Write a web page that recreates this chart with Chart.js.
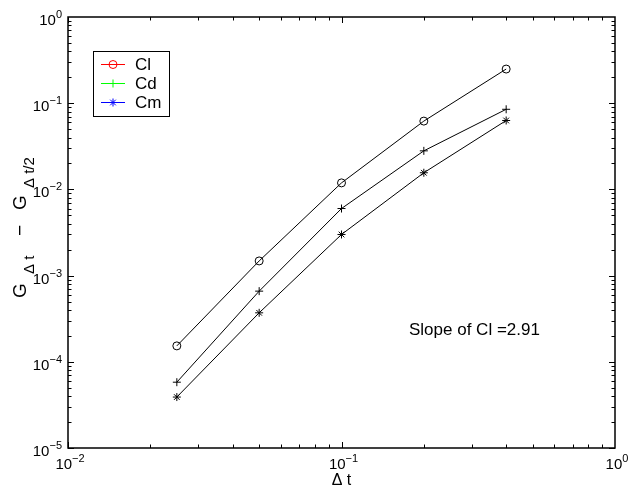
<!DOCTYPE html>
<html><head><meta charset="utf-8">
<script src="https://cdn.jsdelivr.net/npm/chart.js@4.4.0/dist/chart.umd.min.js"></script>
<style>html,body{margin:0;padding:0;background:#fff;}#wrap{width:628px;height:489px;}</style>
</head><body><div id="wrap"><canvas id="c" width="628" height="489"></canvas></div>
<script>
// ---- data ----
const dt = [0.025, 0.05, 0.1, 0.2, 0.4];
const cl = [1.53e-4, 1.48e-3, 1.19e-2, 6.2e-2, 0.249];
const cd = [5.8e-5, 6.6e-4, 6.0e-3, 2.8e-2, 0.085];
const cm = [3.9e-5, 3.7e-4, 3.0e-3, 1.56e-2, 0.063];
const seriesNames = ['Cl', 'Cd', 'Cm'];
const legendColors = ['#ff0000', '#00ff00', '#0000ff'];
const markerStyles = ['circle', 'cross', 'star'];
const xTickExps = [-2, -1, 0];
const yTickExps = [0, -1, -2, -3, -4, -5];
const xTitle = 'Δ t';
const annotationText = 'Slope of Cl =2.91';

const FONT = '"Liberation Sans", Arial, Helvetica, sans-serif';
const seriesValues = [cl, cd, cm];

const datasets = seriesNames.map((name, i) => ({
  label: name,
  data: dt.map((x, j) => ({ x: x, y: seriesValues[i][j] })),
  borderColor: '#000',
  borderWidth: 1,
  pointStyle: markerStyles[i],
  pointRadius: 4,
  pointHoverRadius: 4,
  pointBorderColor: '#000',
  pointBackgroundColor: 'rgba(0,0,0,0)',
  pointBorderWidth: 1,
  tension: 0,
  fill: false
}));

function drawMarker(ctx, style, x, y, r, color) {
  ctx.save();
  ctx.strokeStyle = color; ctx.lineWidth = 1;
  ctx.beginPath();
  if (style === 'circle') {
    ctx.arc(x, y, r, 0, Math.PI * 2);
  } else if (style === 'cross') {
    ctx.moveTo(x - r, y); ctx.lineTo(x + r, y);
    ctx.moveTo(x, y - r); ctx.lineTo(x, y + r);
  } else {
    ctx.moveTo(x - r, y); ctx.lineTo(x + r, y);
    ctx.moveTo(x, y - r); ctx.lineTo(x, y + r);
    const d = r * 0.707;
    ctx.moveTo(x - d, y - d); ctx.lineTo(x + d, y + d);
    ctx.moveTo(x - d, y + d); ctx.lineTo(x + d, y - d);
  }
  ctx.stroke();
  ctx.restore();
}

function supLabel(ctx, exp, x, y, align) {
  const base = '10';
  const sup = (exp < 0 ? '\u2212' : '') + Math.abs(exp);
  ctx.font = '15px ' + FONT;
  const wb = ctx.measureText(base).width;
  ctx.font = '11px ' + FONT;
  const ws = ctx.measureText(sup).width;
  const total = wb + ws;
  let x0 = align === 'right' ? x - total : x - total / 2;
  ctx.fillStyle = '#000';
  ctx.textAlign = 'left';
  ctx.textBaseline = 'alphabetic';
  ctx.font = '15px ' + FONT;
  ctx.fillText(base, x0, y);
  ctx.font = '11px ' + FONT;
  ctx.fillText(sup, x0 + wb, y - 7);
}

const decor = {
  id: 'decor',
  afterDraw(chart) {
    const ctx = chart.ctx;
    const a = chart.chartArea;
    const xs = chart.scales.x, ys = chart.scales.y;
    ctx.save();
    // box
    ctx.strokeStyle = '#000';
    ctx.lineWidth = 1.5;
    ctx.strokeRect(a.left, a.top, a.right - a.left, a.bottom - a.top);
    // ticks
    ctx.lineWidth = 1;
    ctx.beginPath();
    for (let d = xTickExps[0]; d < xTickExps[xTickExps.length - 1]; d++) {
      for (let k = 1; k <= 9; k++) {
        const v = k * Math.pow(10, d);
        const px = Math.round(xs.getPixelForValue(v)) + 0.5;
        const len = k === 1 ? 6 : 3.5;
        ctx.moveTo(px, a.bottom); ctx.lineTo(px, a.bottom - len);
        ctx.moveTo(px, a.top); ctx.lineTo(px, a.top + len);
      }
    }
    for (let d = yTickExps[yTickExps.length - 1]; d < yTickExps[0]; d++) {
      for (let k = 1; k <= 9; k++) {
        const v = k * Math.pow(10, d);
        const py = Math.round(ys.getPixelForValue(v)) + 0.5;
        const len = k === 1 ? 6 : 3.5;
        ctx.moveTo(a.left, py); ctx.lineTo(a.left + len, py);
        ctx.moveTo(a.right, py); ctx.lineTo(a.right - len, py);
      }
    }
    ctx.stroke();
    // tick labels
    xTickExps.forEach(e => {
      const px = xs.getPixelForValue(Math.pow(10, e));
      supLabel(ctx, e, px + 2, a.bottom + 21, 'center');
    });
    yTickExps.forEach(e => {
      const py = ys.getPixelForValue(Math.pow(10, e));
      supLabel(ctx, e, a.left - 6, py + 8, 'right');
    });
    // x title
    ctx.fillStyle = '#000';
    ctx.font = '16px ' + FONT;
    ctx.textAlign = 'center';
    ctx.textBaseline = 'alphabetic';
    ctx.fillText(xTitle, (a.left + a.right) / 2, a.bottom + 37);
    // y title with subscripts (rotated)
    const parts = [
      { t: 'G', f: 19, dy: 0, at: 0 },
      { t: 'Δ t', f: 15, dy: 8, at: 24 },
      { t: '\u2212', f: 19, dy: 0, at: 62 },
      { t: 'G', f: 19, dy: 0, at: 88 },
      { t: 'Δ t/2', f: 15, dy: 8, at: 110 }
    ];
    ctx.save();
    ctx.translate(26, 298);
    ctx.rotate(-Math.PI / 2);
    ctx.textAlign = 'left';
    parts.forEach(p => { ctx.font = p.f + 'px ' + FONT; ctx.fillText(p.t, p.at, p.dy); });
    ctx.restore();
    // annotation
    ctx.font = '17px ' + FONT;
    ctx.textAlign = 'left';
    ctx.fillText(annotationText, 409, 335);
    // legend
    const lx = 93, ly = 51, lw = 76, lh = 65;
    ctx.fillStyle = '#fff';
    ctx.fillRect(lx, ly, lw, lh);
    ctx.strokeStyle = '#000';
    ctx.lineWidth = 1;
    ctx.strokeRect(lx + 0.5, ly + 0.5, lw, lh);
    seriesNames.forEach((n, i) => {
      const yy = ly + 13 + i * 19;
      ctx.strokeStyle = legendColors[i];
      ctx.beginPath();
      ctx.moveTo(lx + 8, yy + 0.5); ctx.lineTo(lx + 32, yy + 0.5);
      ctx.stroke();
      drawMarker(ctx, markerStyles[i], lx + 20, yy + 0.5, 4, legendColors[i]);
      ctx.fillStyle = '#000';
      ctx.font = '17px ' + FONT;
      ctx.textBaseline = 'middle';
      ctx.fillText(n, lx + 42, yy + 1);
    });
    ctx.restore();
  }
};

new Chart(document.getElementById('c'), {
  type: 'line',
  data: { datasets: datasets },
  options: {
    responsive: false,
    animation: false,
    devicePixelRatio: 1,
    layout: { padding: { left: 68, right: 13, top: 17, bottom: 41 } },
    plugins: { legend: { display: false }, tooltip: { enabled: false } },
    scales: {
      x: {
        type: 'logarithmic', min: 0.01, max: 1,
        ticks: { display: false }, grid: { display: false, drawTicks: false }, border: { display: false },
        afterFit: s => { s.height = 0; }
      },
      y: {
        type: 'logarithmic', min: 1e-5, max: 1,
        ticks: { display: false }, grid: { display: false, drawTicks: false }, border: { display: false },
        afterFit: s => { s.width = 0; }
      }
    }
  },
  plugins: [decor]
});
</script>
</body></html>
